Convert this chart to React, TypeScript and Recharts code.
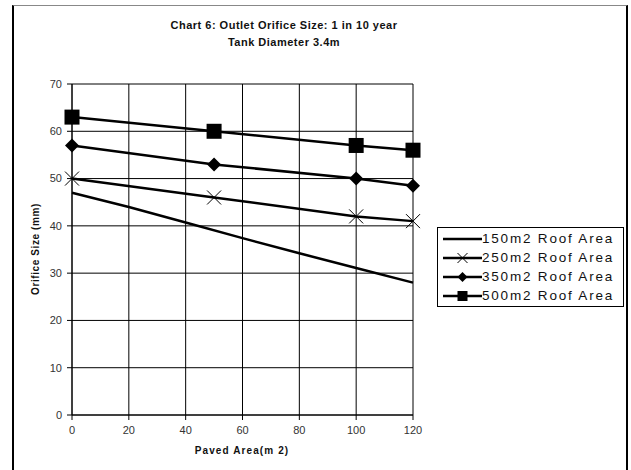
import React from 'react';
import { LineChart, Line, XAxis, YAxis, CartesianGrid } from 'recharts';

const titleLines = ['Chart 6: Outlet Orifice Size: 1 in 10 year', 'Tank Diameter 3.4m'];
const xAxisTitle = 'Paved Area(m 2)';
const yAxisTitle = 'Orifice Size (mm)';

const pavedArea = [0, 20, 40, 50, 60, 80, 100, 120];
const roof150 = [47, 44, 40.7, null, 37.4, 34.2, 31.1, 28];
const roof250 = [50, null, null, 46, null, null, 42, 41];
const roof350 = [57, null, null, 53, null, null, 50, 48.5];
const roof500 = [63, null, null, 60, null, null, 57, 56];

const seriesNames = ['150m2 Roof Area', '250m2 Roof Area', '350m2 Roof Area', '500m2 Roof Area'];
const seriesKeys = ['r150', 'r250', 'r350', 'r500'];
const markerKinds = ['none', 'cross', 'diamond', 'square'];

const xTicks = [0, 20, 40, 60, 80, 100, 120];
const yTicks = [0, 10, 20, 30, 40, 50, 60, 70];

const data = pavedArea.map((x, i) => ({
  x,
  r150: roof150[i],
  r250: roof250[i],
  r350: roof350[i],
  r500: roof500[i],
}));

const FONT = '"Liberation Sans", Arial, sans-serif';

function Marker({ kind, cx, cy, size = 7 }: { kind: string; cx: number; cy: number; size?: number }) {
  const h = size;
  if (kind === 'cross') {
    return (
      <g>
        <line x1={cx - h} y1={cy - h} x2={cx + h} y2={cy + h} stroke="#000" strokeWidth={1} />
        <line x1={cx - h} y1={cy + h} x2={cx + h} y2={cy - h} stroke="#000" strokeWidth={1} />
      </g>
    );
  }
  if (kind === 'diamond') {
    return <polygon points={`${cx},${cy - h} ${cx + h},${cy} ${cx},${cy + h} ${cx - h},${cy}`} fill="#000" />;
  }
  if (kind === 'square') {
    return <rect x={cx - h} y={cy - h} width={2 * h} height={2 * h} fill="#000" />;
  }
  return null;
}

const makeDot = (kind: string) => (props: any) => {
  const { cx, cy, value, index } = props;
  if (value == null || cx == null || cy == null || kind === 'none') return <g key={`d-${kind}-${index}`} />;
  return (
    <g key={`d-${kind}-${index}`}>
      <Marker kind={kind} cx={cx} cy={cy} size={kind === 'square' ? 7.5 : 7} />
    </g>
  );
};

export default function App() {
  return (
    <div style={{ position: 'absolute', left: 0, top: 0, width: 631, height: 470, overflow: 'hidden', background: '#fff', fontFamily: FONT }}>
      <div
        style={{
          position: 'absolute',
          left: 12,
          top: 5,
          width: 612,
          height: 480,
          borderLeft: '2px solid #000',
          borderTop: '1px solid #888',
          borderRight: '2px solid #000',
        }}
      />
      {titleLines.map((t, i) => (
        <div
          key={t}
          style={{
            position: 'absolute',
            left: 84,
            width: 400,
            top: 18 + i * 17,
            textAlign: 'center',
            fontSize: 11,
            fontWeight: 'bold',
            letterSpacing: 0.5,
            color: '#111',
            lineHeight: '14px',
          }}
        >
          {t}
        </div>
      ))}
      <LineChart
        width={631}
        height={470}
        data={data}
        margin={{ top: 84, right: 218, bottom: 25, left: 12 }}
        style={{ position: 'absolute', left: 0, top: 0 }}
      >
        <CartesianGrid stroke="#000" strokeWidth={1} horizontalValues={yTicks} verticalValues={xTicks} />
        <XAxis
          dataKey="x"
          type="number"
          domain={[0, 120]}
          ticks={xTicks}
          height={30}
          tickSize={5}
          tickMargin={6}
          axisLine={{ stroke: '#000' }}
          tickLine={{ stroke: '#000' }}
          tick={{ fontSize: 11, fill: '#333', fontFamily: FONT }}
          interval={0}
        />
        <YAxis
          type="number"
          domain={[0, 70]}
          ticks={yTicks}
          width={60}
          tickSize={5}
          tickMargin={5}
          axisLine={{ stroke: '#000' }}
          tickLine={{ stroke: '#000' }}
          tick={{ fontSize: 11, fill: '#333', fontFamily: FONT }}
          interval={0}
        />
        {seriesKeys.map((k, i) => (
          <Line
            key={k}
            dataKey={k}
            name={seriesNames[i]}
            type="linear"
            stroke="#000"
            strokeWidth={2.5}
            connectNulls
            isAnimationActive={false}
            dot={makeDot(markerKinds[i])}
            activeDot={false}
          />
        ))}
      </LineChart>
      <div
        style={{
          position: 'absolute',
          left: 192,
          width: 100,
          top: 445,
          textAlign: 'center',
          whiteSpace: 'nowrap',
          fontSize: 10,
          fontWeight: 'bold',
          letterSpacing: 1.1,
          color: '#111',
          display: 'flex',
          justifyContent: 'center',
        }}
      >
        {xAxisTitle}
      </div>
      <div
        style={{
          position: 'absolute',
          left: 35,
          top: 249,
          transform: 'translate(-50%, -50%) rotate(-90deg)',
          whiteSpace: 'nowrap',
          fontSize: 10,
          fontWeight: 'bold',
          letterSpacing: 0.6,
          color: '#111',
        }}
      >
        {yAxisTitle}
      </div>
      <div
        style={{
          position: 'absolute',
          left: 437,
          top: 227,
          width: 187,
          height: 80,
          boxSizing: 'border-box',
          border: '1px solid #000',
          paddingTop: 1,
          paddingLeft: 5,
        }}
      >
        {seriesNames.map((n, i) => (
          <div key={n} style={{ display: 'flex', alignItems: 'center', height: 19 }}>
            <svg width={39} height={16} style={{ display: 'block' }}>
              <line x1={0} y1={8} x2={39} y2={8} stroke="#000" strokeWidth={2.5} />
              <Marker kind={markerKinds[i]} cx={19.5} cy={8} size={5} />
            </svg>
            <span style={{ fontSize: 13.5, letterSpacing: 1.8, color: '#111', whiteSpace: 'nowrap' }}>{n}</span>
          </div>
        ))}
      </div>
    </div>
  );
}
